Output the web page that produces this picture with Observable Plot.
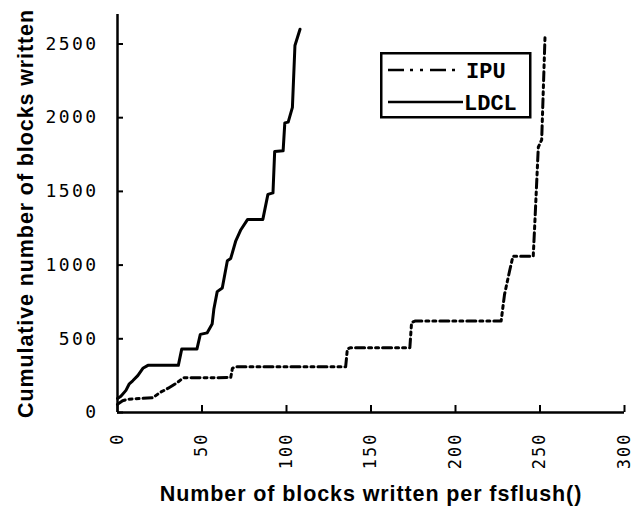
<!DOCTYPE html>
<html>
<head>
<meta charset="utf-8">
<script src="https://cdn.jsdelivr.net/npm/d3@7"></script>
<script src="https://cdn.jsdelivr.net/npm/@observablehq/plot@0.6"></script>
<style>
  html, body { margin: 0; padding: 0; background: #fff; }
  #wrap { position: relative; width: 634px; height: 509px; }
  #legend { position: absolute; left: 380px; top: 52px; }
</style>
</head>
<body>
<div id="wrap"></div>
<script>
// ---- data ----
const ldclX = [0, 2, 5, 7, 9, 12, 15, 18, 36, 38, 47, 49, 53, 56, 57, 59, 62, 65, 67, 70, 73, 77, 86, 89, 92, 93, 98, 99, 101, 103.5, 105, 108];
const ldclY = [95, 110, 150, 195, 215, 250, 300, 320, 320, 430, 430, 530, 540, 600, 700, 820, 845, 1030, 1045, 1165, 1240, 1310, 1310, 1480, 1490, 1770, 1775, 1965, 1970, 2070, 2490, 2600];
const ipuX = [0, 3, 6, 21, 25, 30, 35, 39, 67, 68, 70, 135, 136, 138, 173, 174, 176, 227, 229, 232, 234, 246, 247, 249, 251, 253];
const ipuY = [55, 80, 90, 100, 135, 165, 200, 235, 237, 300, 310, 310, 430, 440, 440, 610, 620, 620, 800, 960, 1060, 1060, 1300, 1800, 1850, 2560];
const xTicks = [0, 50, 100, 150, 200, 250, 300];
const yTicks = [0, 500, 1000, 1500, 2000, 2500];
const seriesNames = ["IPU", "LDCL"];
const xLabel = "Number of blocks written per fsflush()";
const yLabel = "Cumulative number of blocks written";

const ldcl = ldclX.map((x, i) => ({x, y: ldclY[i]}));
const ipu = ipuX.map((x, i) => ({x, y: ipuY[i]}));

const ipuDash = "9,4,3,4,3,4";
const fmt = d => String(d);

const chart = Plot.plot({
  width: 634,
  height: 509,
  marginLeft: 117,
  marginRight: 10,
  marginTop: 14,
  marginBottom: 97,
  x: {domain: [0, 300], label: null},
  y: {domain: [0, 2700], label: null},
  style: {background: "white", color: "black"},
  marks: [
    Plot.axisY(yTicks, {tickSize: 0, tickPadding: 19, tickFormat: fmt, fontSize: 18, fontFamily: "DejaVu Sans Mono", label: null}),
    Plot.axisY(yTicks, {tickSize: 6, dx: 6, strokeWidth: 2, tickFormat: () => "", label: null}),
    Plot.axisX(xTicks, {tickSize: 0, tickPadding: 20, tickRotate: -90, tickFormat: fmt, fontSize: 17, fontFamily: "DejaVu Sans Mono", label: null}),
    Plot.axisX(xTicks, {tickSize: 7, dy: -7, strokeWidth: 2, tickFormat: () => "", label: null}),
    Plot.ruleX([0], {strokeWidth: 2.5}),
    Plot.ruleY([0], {strokeWidth: 2.5}),
    Plot.line(ipu, {x: "x", y: "y", stroke: "black", strokeWidth: 3, strokeDasharray: ipuDash}),
    Plot.line(ldcl, {x: "x", y: "y", stroke: "black", strokeWidth: 3, strokeLinejoin: "round"}),
    Plot.text([yLabel], {text: d => d, frameAnchor: "left", rotate: -90, dx: -85, lineAnchor: "bottom", textAnchor: "middle", fontSize: 21.5, fontWeight: "bold", fontFamily: "Liberation Sans"}),
    Plot.text([xLabel], {text: d => d, frameAnchor: "bottom", dy: 88, lineAnchor: "bottom", textAnchor: "middle", fontSize: 21.5, fontWeight: "bold", fontFamily: "Liberation Sans"})
  ]
});

const wrap = document.getElementById("wrap");
wrap.appendChild(chart);
const svg = d3.select(chart);
svg.selectAll('g[aria-label="y-axis tick label"] text').attr("letter-spacing", "2.4px");
svg.selectAll('g[aria-label="x-axis tick label"] text').attr("letter-spacing", "2px");
svg.selectAll('g[aria-label="text"] text').attr("letter-spacing", "0.9px");

// ---- legend ----
const legend = d3.select(wrap).append("svg").attr("id", "legend").attr("width", 152).attr("height", 67);
legend.append("rect").attr("x", 1.25).attr("y", 1.25).attr("width", 149).attr("height", 64)
  .attr("fill", "white").attr("stroke", "black").attr("stroke-width", 2.5);
const rows = [
  {name: seriesNames[0], dash: "16,6,3,7,3,7", x2: 75, ty: 26, ly: 18, tx: 86},
  {name: seriesNames[1], dash: null, x2: 83, ty: 58, ly: 50, tx: 84}
];
rows.forEach(r => {
  legend.append("line").attr("x1", 8).attr("x2", r.x2).attr("y1", r.ly).attr("y2", r.ly)
    .attr("stroke", "black").attr("stroke-width", 2.5).attr("stroke-dasharray", r.dash);
  legend.append("text").attr("x", r.tx).attr("y", r.ty).text(r.name)
    .attr("font-family", "Liberation Mono").attr("font-weight", "bold").attr("font-size", 22);
});
</script>
</body>
</html>
